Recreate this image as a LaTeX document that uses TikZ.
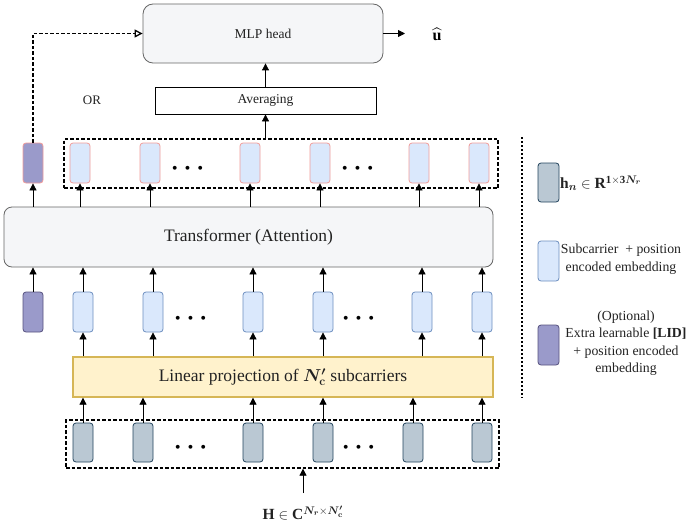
\documentclass[tikz,border=0pt]{standalone}
\usepackage{amsmath,bm}
\usepackage{fontspec}
\setmainfont{Liberation Serif}
\usetikzlibrary{arrows.meta}
\definecolor{blueF}{HTML}{DAE8FC}
\definecolor{blueD}{HTML}{6C8EBF}
\definecolor{pinkD}{HTML}{F19C99}
\definecolor{purF}{HTML}{9A9ACA}
\definecolor{purD}{HTML}{56517E}
\definecolor{grayF}{HTML}{BAC8D3}
\definecolor{grayD}{HTML}{23445D}
\definecolor{yelF}{HTML}{FFF2CC}
\definecolor{yelD}{HTML}{D6B656}
\definecolor{boxF}{HTML}{F5F6F8}
\definecolor{boxD}{HTML}{666666}
\definecolor{txt}{HTML}{222222}
\begin{document}
\begin{tikzpicture}[x=1pt,y=-1pt,
  tok/.style={rectangle, rounded corners=3pt, minimum width=20pt, minimum height=40pt, inner sep=0pt, line width=0.8pt},
  blueT/.style={tok, fill=blueF, draw=pinkD},
  lidT/.style={tok, fill=purF, draw=pinkD},
  blueM/.style={tok, fill=blueF, draw=blueD},
  lidM/.style={tok, fill=purF, draw=purD},
  grayB/.style={tok, fill=grayF, draw=grayD, minimum height=39pt},
  arr/.style={-{Triangle[length=7pt,width=7pt]}, line width=0.8pt},
  dbox/.style={draw, dash pattern=on 3.5pt off 2pt, line width=1.3pt, inner sep=0pt},
  bigbox/.style={draw=boxD, fill=boxF, line width=0.8pt, inner sep=0pt},
  dots/.style={font=\fontsize{30}{30}\selectfont, inner sep=0pt},
  lab/.style={font=\fontsize{13.8}{17.5}\selectfont, align=center, inner sep=0pt, text=txt}
]
\useasboundingbox (0,0) rectangle (693,527);

% MLP head
\node[bigbox, rounded corners=10pt, minimum width=240pt, minimum height=59pt,
      font=\fontsize{13.5}{16}\selectfont, text=txt] (mlp) at (263,33.5) {MLP head};
\coordinate (uend) at (405,33.5);
\node[font=\fontsize{16}{18}\selectfont, inner sep=0pt] (uhat) at (437,34) {$\widehat{\mathbf{u}}$};
\draw[arr] (mlp.east) -- (uend);

% Averaging
\node[draw, fill=white, line width=0.8pt, minimum width=221pt, minimum height=27pt, inner sep=0pt,
      font=\fontsize{13.5}{16}\selectfont, text=txt] (avg) at (265.5,100.5) {Averaging};
\draw[arr] (avg.north) -- (avg.north |- mlp.south);
\node[font=\fontsize{13}{16}\selectfont, inner sep=0pt, text=txt] (or) at (92,100) {OR};

% top token row
\node[dbox, minimum width=434pt, minimum height=49pt] (topbox) at (281,163.5) {};
\node[lidT] (t0) at (33,163) {};
\node[blueT] (t1) at (80,163) {};
\node[blueT] (t2) at (150,163) {};
\node[blueT] (t3) at (250,163) {};
\node[blueT] (t4) at (320,163) {};
\node[blueT] (t5) at (419,163) {};
\node[blueT] (t6) at (479,163) {};
\node[dots] (d1) at (190,169) {$\bm{\cdots}$};
\node[dots] (d2) at (360,169) {$\bm{\cdots}$};
\draw[arr] (topbox.north -| avg) -- (avg.south);
\draw[line width=1.3pt, dash pattern=on 3.5pt off 2pt, -{Triangle[open,length=8pt,width=8pt]}] (t0.north) |- (mlp.west);

% Transformer
\node[bigbox, rounded corners=8pt, minimum width=489pt, minimum height=60pt,
      font=\fontsize{17.5}{20}\selectfont, text=txt] (tr) at (248.5,237) {Transformer (Attention)};
\foreach \i in {0,...,6}{\draw[arr] (tr.north -| t\i) -- (t\i.south);}

% middle token row
\node[lidM] (m0) at (33,312) {};
\node[blueM] (m1) at (83,312) {};
\node[blueM] (m2) at (153,312) {};
\node[blueM] (m3) at (253,312) {};
\node[blueM] (m4) at (323,312) {};
\node[blueM] (m5) at (422,312) {};
\node[blueM] (m6) at (482,312) {};
\node[dots] (d3) at (193,319) {$\bm{\cdots}$};
\node[dots] (d4) at (361,319) {$\bm{\cdots}$};
\foreach \i in {0,...,6}{\draw[arr] (m\i.north) -- (m\i.north |- tr.south);}

% Linear projection
\node[draw=yelD, fill=yelF, line width=1.3pt, minimum width=420pt, minimum height=40pt, inner sep=0pt,
      font=\fontsize{17.5}{20}\selectfont, text=txt] (lin) at (283,377)
      {Linear projection of $\bm{N'_{\mathbf{c}}}$ subcarriers};
\foreach \i in {1,...,6}{\draw[arr] (lin.north -| m\i) -- (m\i.south);}

% bottom token row
\node[dbox, minimum width=433pt, minimum height=48pt] (botbox) at (282.5,444) {};
\node[grayB] (b1) at (83,442.5) {};
\node[grayB] (b2) at (143,442.5) {};
\node[grayB] (b3) at (253,442.5) {};
\node[grayB] (b4) at (323,442.5) {};
\node[grayB] (b5) at (413,442.5) {};
\node[grayB] (b6) at (482,442.5) {};
\node[dots] (d5) at (193,448) {$\bm{\cdots}$};
\node[dots] (d6) at (361,448) {$\bm{\cdots}$};
\foreach \i in {1,...,6}{\draw[arr] (b\i.north) -- (b\i.north |- lin.south);}

% input
\coordinate (hstart) at (303,493);
\node[font=\fontsize{15.5}{18}\selectfont, inner sep=0pt, text=txt] (hin) at (303,513)
  {$\mathbf{H}\in\mathbf{C}^{\bm{N_r}\times\bm{N'_{\mathbf{c}}}}$};
\draw[arr] (hstart) -- (botbox.south -| hstart);

% legend
\coordinate (lt) at (522,137);
\coordinate (lb) at (522,398);
\draw[line width=2pt, dash pattern=on 2pt off 2pt] (lt) -- (lb);
\node[grayB, minimum width=21pt] (lg) at (548.5,182.5) {};
\node[blueM, minimum width=21pt] (lbl) at (548.5,261) {};
\node[lidM, minimum width=21pt] (lpu) at (548.5,345) {};
\node[anchor=west, inner sep=0pt, font=\fontsize{15.5}{18}\selectfont, text=txt] (hn) at (560,183)
  {$\mathbf{h}_{\bm{n}}\in\mathbf{R}^{\mathbf{1}\times\mathbf{3}\bm{N_r}}$};
\node[lab] (lbtxt) at (621,259) {Subcarrier \ + position\\encoded embedding};
\node[lab] (lptxt) at (626,343) {(Optional)\\Extra learnable \textbf{[LID]}\\+ position encoded\\embedding};
\end{tikzpicture}
\end{document}
